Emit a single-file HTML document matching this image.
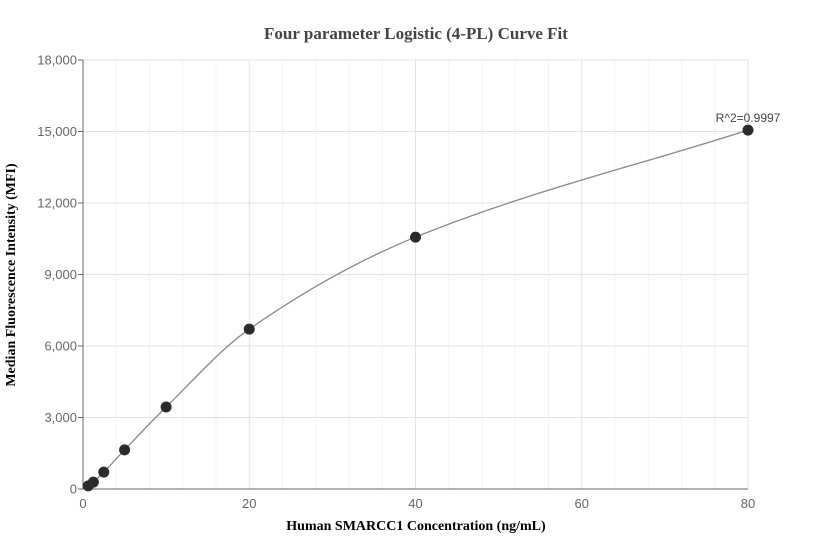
<!DOCTYPE html>
<html><head><meta charset="utf-8"><style>
body{margin:0;background:#fff;}
svg{display:block;font-family:"Liberation Sans",sans-serif;}
</style></head><body>
<svg id="chart" width="832" height="560">
<text x="416" y="39" text-anchor="middle" font-family="Liberation Serif,serif" font-weight="bold" font-size="17" fill="#444">Four parameter Logistic (4-PL) Curve Fit</text>
<text x="416" y="530" text-anchor="middle" font-family="Liberation Serif,serif" font-weight="bold" font-size="14" fill="#000">Human SMARCC1 Concentration (ng/mL)</text>
<text transform="translate(15,275) rotate(-90)" text-anchor="middle" font-family="Liberation Serif,serif" font-weight="bold" font-size="14" fill="#000">Median Fluorescence Intensity (MFI)</text>
<g id="grid"></g><g id="axes"></g><g id="curve"></g><g id="points"></g>
</svg>
<script>
const xConc = [0.625, 1.25, 2.5, 5, 10, 20, 40, 80];
const yMFI = [130, 290, 710, 1640, 3440, 6710, 10570, 15060];
const xTicks = [0, 20, 40, 60, 80];
const yTicks = [0, 3000, 6000, 9000, 12000, 15000, 18000];
const yTickLabels = ["0","3,000","6,000","9,000","12,000","15,000","18,000"];
const r2Label = "R^2=0.9997";

const NS="http://www.w3.org/2000/svg";
const X0=83,X1=748,Y0=489,Y1=60;
const sx=v=>X0+(v-0)/(80-0)*(X1-X0);
const sy=v=>Y0-(v-0)/(18000-0)*(Y0-Y1);
function mk(tag,attrs,parent){const e=document.createElementNS(NS,tag);for(const k in attrs)e.setAttribute(k,attrs[k]);parent.appendChild(e);return e;}
const grid=document.getElementById('grid'),axes=document.getElementById('axes');
for(let v=4;v<80;v+=4){if(v%20===0)continue;
 const l=mk('line',{x1:sx(v),x2:sx(v),y1:Y1,y2:Y0,stroke:'#f1f3f9','stroke-width':1},grid);
 
 }
xTicks.forEach(v=>{
 if(v>0){const l=mk('line',{x1:sx(v),x2:sx(v),y1:Y1,y2:Y0,stroke:'#dfe3ee','stroke-width':1},grid);
 
 }
 const t=mk('text',{x:sx(v),y:Y0+19,'text-anchor':'middle','font-size':13,fill:'#666'},axes);t.textContent=v;
 
 
});
yTicks.forEach((v,i)=>{
 if(v>0){const l=mk('line',{x1:X0,x2:X1,y1:sy(v),y2:sy(v),stroke:'#dfe3ee','stroke-width':1},grid);
 
 }
 const tk=mk('line',{x1:X0-5,x2:X0,y1:sy(v),y2:sy(v),stroke:'#666'},axes);
 
 
 const t=mk('text',{x:X0-6,y:sy(v)+4.5,'text-anchor':'end','font-size':13,fill:'#666'},axes);t.textContent=yTickLabels[i];
 
 
});
const ya=mk('line',{x1:X0,x2:X0,y1:Y1,y2:Y0,stroke:'#666'},axes);


const xa=mk('line',{x1:X0,x2:X1,y1:Y0,y2:Y0,stroke:'#666'},axes);


const px=xConc.map(sx),py=yMFI.map(sy),n=px.length;
const d=[],m=[];
for(let i=0;i<n-1;i++)d.push((py[i+1]-py[i])/(px[i+1]-px[i]));
m[0]=d[0];m[n-1]=d[n-2];
for(let i=1;i<n-1;i++)m[i]=d[i-1]*d[i]<=0?0:2/(1/d[i-1]+1/d[i]);
let p=`M${px[0]},${py[0]}`;
for(let i=0;i<n-1;i++){const h=px[i+1]-px[i];
 p+=` C${px[i]+h/3},${py[i]+m[i]*h/3} ${px[i+1]-h/3},${py[i+1]-m[i+1]*h/3} ${px[i+1]},${py[i+1]}`;}
const c=mk('path',{d:p,fill:'none',stroke:'#888','stroke-width':1.3},document.getElementById('curve'));


const pts=document.getElementById('points');
xConc.forEach((v,i)=>{
 const ci=mk('circle',{cx:sx(v),cy:sy(yMFI[i]),r:5.5,fill:'#2b2b2b'},pts);
 
 
});
const r=mk('text',{x:sx(xConc[n-1]),y:sy(yMFI[n-1])-8,'text-anchor':'middle','font-size':12,fill:'#444'},pts);
r.textContent=r2Label;


</script>
</body></html>
